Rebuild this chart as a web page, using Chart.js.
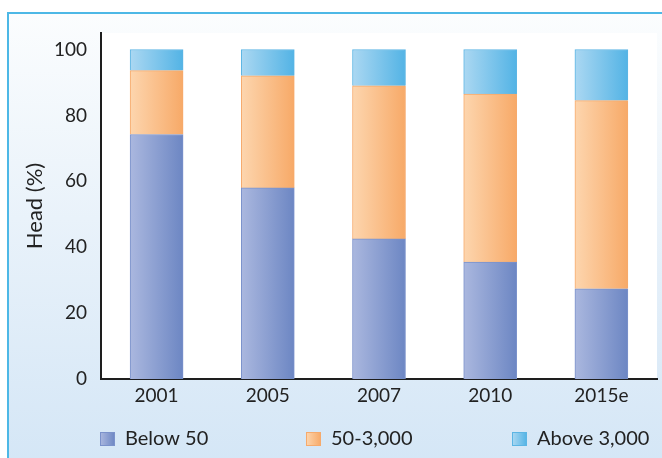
<!DOCTYPE html>
<html>
<head>
<meta charset="utf-8">
<script src="https://cdn.jsdelivr.net/npm/chart.js@4"></script>
<style>
  html, body { margin: 0; padding: 0; width: 662px; height: 458px; overflow: hidden; background: #fff; }
  #frame {
    position: absolute; left: 7px; top: 12px; right: -10px; bottom: -10px;
    border-top: 2px solid #4db8e6; border-left: 2px solid #4db8e6;
    background: linear-gradient(to bottom, #fbfdfe 0%, #e9f2fa 45%, #d4e6f6 100%);
  }
  #chart { position: absolute; left: 0; top: 0; }
</style>
</head>
<body>
<div id="frame"></div>
<canvas id="chart" width="662" height="458"></canvas>
<script>
// data
var years = ['2001', '2005', '2007', '2010', '2015e'];
var below50 = [74.2, 58, 42.5, 35.5, 27.4];
var mid50to3000 = [19.4, 34, 46.5, 51, 57.1];
var above3000 = [6.4, 8, 11, 13.5, 15.5];
var yTicks = [0, 20, 40, 60, 80, 100];
var seriesNames = ['Below 50', '50-3,000', 'Above 3,000'];

var palette = [
    { light: '#abb8df', dark: '#6c86c3', border: '#7b92cb' },
    { light: '#fdd6af', dark: '#f7a967', border: '#f6aa6c' },
    { light: '#acd8f2', dark: '#52b3e5', border: '#5cb5e4' }
];

Chart.defaults.font.family = 'Lato';
Chart.defaults.color = '#222';

// horizontal gradient across each bar
function barFill(idx) {
    return function(context) {
        var chart = context.chart;
        var xs = chart.scales.x;
        if (!chart.chartArea || !xs || context.dataIndex === undefined) {
            return palette[idx].dark;
        }
        var cx = xs.getPixelForValue(context.dataIndex);
        var g = chart.ctx.createLinearGradient(cx - 27, 0, cx + 27, 0);
        g.addColorStop(0, palette[idx].light);
        g.addColorStop(1, palette[idx].dark);
        return g;
    };
}

var plotBackground = {
    id: 'plotBackground',
    beforeDraw: function(chart) {
        var a = chart.chartArea;
        var ctx = chart.ctx;
        ctx.save();
        ctx.fillStyle = '#ffffff';
        ctx.fillRect(a.left, a.top, a.right - a.left, a.bottom - a.top);
        ctx.restore();
    }
};

// legend spread across the bottom like in the original
var bottomLegend = {
    id: 'bottomLegend',
    afterDraw: function(chart) {
        var ctx = chart.ctx;
        ctx.save();
        chart.data.datasets.forEach(function(ds, i) {
            var x = 100 + 206 * i;
            var g = ctx.createLinearGradient(x, 0, x + 15, 0);
            g.addColorStop(0, palette[i].light);
            g.addColorStop(1, palette[i].dark);
            ctx.fillStyle = g;
            ctx.fillRect(x, 432, 15, 14);
            ctx.strokeStyle = palette[i].border;
            ctx.lineWidth = 1;
            ctx.strokeRect(x + 0.5, 432.5, 14, 13);
            ctx.fillStyle = '#222';
            ctx.font = '20px Lato';
            ctx.textBaseline = 'middle';
            ctx.textAlign = 'left';
            ctx.fillText(ds.label, x + 25, 439);
        });
        ctx.restore();
    }
};

var datasets = [below50, mid50to3000, above3000].map(function(values, i) {
    return {
        label: seriesNames[i],
        data: values,
        backgroundColor: barFill(i),
        borderColor: palette[i].border,
        borderWidth: 1,
        barThickness: 53
    };
});

new Chart(document.getElementById('chart'), {
    type: 'bar',
    data: { labels: years, datasets: datasets },
    plugins: [plotBackground, bottomLegend],
    options: {
        responsive: false,
        animation: false,
        layout: { padding: { left: 7, right: 5, top: 33, bottom: 43 } },
        plugins: {
            legend: { display: false },
            tooltip: { enabled: false }
        },
        scales: {
            x: {
                stacked: true,
                grid: { display: false },
                border: { display: true, color: '#1e1e1e', width: 2 },
                ticks: { color: '#222', padding: -3, font: { size: 19 } },
                afterFit: function(scale) { scale.height = 36; }
            },
            y: {
                stacked: true,
                min: 0,
                max: 105,
                grid: { display: false },
                border: { display: true, color: '#1e1e1e', width: 2 },
                ticks: { color: '#222', padding: 6, font: { size: 19 } },
                afterBuildTicks: function(scale) {
                    scale.ticks = yTicks.map(function(v) { return { value: v }; });
                },
                afterFit: function(scale) { scale.width = 94; },
                title: {
                    display: true,
                    text: 'Head (%)',
                    color: '#222',
                    font: { size: 22 },
                    padding: { top: 15, bottom: 0 }
                }
            }
        }
    }
});
</script>
</body>
</html>
